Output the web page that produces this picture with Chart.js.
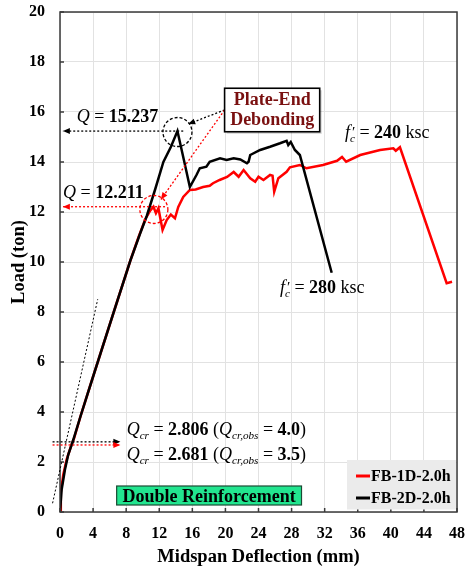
<!DOCTYPE html>
<html>
<head>
<meta charset="utf-8">
<script src="https://cdn.jsdelivr.net/npm/chart.js@4.4.1/dist/chart.umd.min.js"></script>
<style>
  html, body { margin: 0; padding: 0; background: #fff; }
</style>
</head>
<body>
<canvas id="loadChart" width="465" height="569"></canvas>
<script>
// Load-deflection curves for the two strengthened beams
const seriesLabels = ['FB-1D-2.0h', 'FB-2D-2.0h'];

const deflection1D = [0, 0.1, 0.4, 0.8, 1.3, 1.7, 2.5, 3.6, 5.0, 6.5,
  8.5, 9.5, 10.3, 10.9, 11.3, 11.6, 11.9, 12.1, 12.4, 12.9,
  13.4, 13.9, 14.3, 14.9, 15.7, 16.4, 17.3, 18.1, 18.5, 19.3,
  20.2, 21.0, 21.6, 22.2, 23.0, 23.6, 24.0, 24.6, 25.4, 25.7,
  25.9, 26.4, 27.4, 27.8, 29.0, 29.8, 31.8, 33.5, 34.1, 34.6,
  36.3, 38.7, 40.3, 40.6, 41.1, 46.75, 47.4];
const load1D = [0, 0.8, 1.5, 2.1, 2.6, 2.95, 3.85, 5.0, 6.45, 8.0,
  10.05, 11.0, 11.7, 12.05, 12.211, 11.95, 12.15, 11.8, 11.28, 11.68,
  11.9, 11.75, 12.2, 12.6, 12.88, 12.9, 13.0, 13.05, 13.15, 13.28,
  13.4, 13.6, 13.41, 13.68, 13.35, 13.21, 13.41, 13.28, 13.48, 13.45,
  12.81, 13.35, 13.61, 13.79, 13.88, 13.75, 13.88, 14.05, 14.2, 14.01,
  14.28, 14.48, 14.55, 14.45, 14.59, 9.15, 9.21];

const deflection2D = [0, 0.2, 0.6, 1.0, 1.6, 2.5, 3.6, 5.0, 6.5, 8.5,
  9.7, 10.5, 11.5, 12.5, 13.4, 14.2, 15.0, 15.7, 16.5, 16.9,
  17.7, 18.1, 19.35, 20.15, 21.0, 21.8, 22.6, 22.8, 23.0, 24.2,
  25.4, 26.6, 27.4, 27.6, 27.9, 28.4, 29.0, 32.85];
const load2D = [0, 0.9, 1.7, 2.3, 2.88, 3.85, 5.0, 6.45, 8.0, 10.05,
  11.15, 11.85, 12.9, 14.0, 14.6, 15.237, 14.05, 13.0, 13.48, 13.75,
  13.81, 14.01, 14.15, 14.08, 14.15, 14.1, 13.95, 14.01, 14.28, 14.48,
  14.61, 14.75, 14.85, 14.68, 14.8, 14.48, 14.28, 9.57];

// key loads marked on the chart
const debondLoads = [12.211, 15.237];   // 1D, 2D
const crackLoads = [2.681, 2.806];      // 1D, 2D
const crackObserved = ['3.5', '4.0'];

const seriesColors = ['#ff0000', '#000000'];
const serif = '"Liberation Serif", "Times New Roman", serif';

function toPoints(xs, ys) {
  return xs.map((x, i) => ({ x: x, y: ys[i] }));
}

function arrowLine(ctx, x1, y1, x2, y2, color, dash) {
  ctx.save();
  ctx.strokeStyle = color;
  ctx.fillStyle = color;
  ctx.lineWidth = 1.3;
  ctx.setLineDash(dash || [2, 2]);
  ctx.beginPath();
  ctx.moveTo(x1, y1);
  ctx.lineTo(x2, y2);
  ctx.stroke();
  ctx.setLineDash([]);
  const a = Math.atan2(y2 - y1, x2 - x1), L = 7, W = 3;
  ctx.beginPath();
  ctx.moveTo(x2, y2);
  ctx.lineTo(x2 - L * Math.cos(a) + W * Math.sin(a), y2 - L * Math.sin(a) - W * Math.cos(a));
  ctx.lineTo(x2 - L * Math.cos(a) - W * Math.sin(a), y2 - L * Math.sin(a) + W * Math.cos(a));
  ctx.closePath();
  ctx.fill();
  ctx.restore();
}

// text made of runs: i = italic, b = bold, sub/sup = small raised or lowered, hold = no advance
function drawRuns(ctx, x, y, runs, size, color) {
  let cx = x;
  ctx.fillStyle = color || '#000';
  ctx.textBaseline = 'alphabetic';
  ctx.textAlign = 'left';
  runs.forEach(r => {
    const s = r.sub ? size * 0.62 : (r.sup ? size * 0.85 : size);
    ctx.font = (r.i ? 'italic ' : '') + (r.b ? 'bold ' : '') + s + 'px ' + serif;
    const dy = r.sub ? size * 0.22 : (r.sup ? -size * 0.08 : 0);
    ctx.fillText(r.t, cx + (r.dx || 0), y + dy);
    if (!r.hold) cx += ctx.measureText(r.t).width + (r.dx || 0);
  });
}

const notes = {
  id: 'notes',
  afterDatasetsDraw(chart) {
    const ctx = chart.ctx;
    const xs = chart.scales.x, ys = chart.scales.y;
    const px = v => xs.getPixelForValue(v);
    const py = v => ys.getPixelForValue(v);
    const area = chart.chartArea;

    // frame and inward ticks
    ctx.save();
    ctx.strokeStyle = '#3a3a3a';
    ctx.lineWidth = 1.5;
    ctx.strokeRect(area.left, area.top, area.right - area.left, area.bottom - area.top);
    ctx.beginPath();
    xs.ticks.forEach(t => {
      ctx.moveTo(px(t.value), area.bottom);
      ctx.lineTo(px(t.value), area.bottom - 4);
    });
    ys.ticks.forEach(t => {
      ctx.moveTo(area.left, py(t.value));
      ctx.lineTo(area.left + 4, py(t.value));
    });
    ctx.stroke();
    ctx.restore();

    // initial stiffness tangent
    ctx.save();
    ctx.beginPath();
    ctx.rect(area.left - 10, area.top, area.right - area.left + 10, area.bottom - area.top);
    ctx.clip();
    ctx.strokeStyle = '#000';
    ctx.lineWidth = 1;
    ctx.setLineDash([2, 2]);
    ctx.beginPath();
    ctx.moveTo(px(-0.9), py(0.35));
    ctx.lineTo(px(4.56), py(8.51));
    ctx.stroke();
    ctx.restore();

    // cracking load arrows
    arrowLine(ctx, px(-0.9), py(crackLoads[1]), px(7.3), py(crackLoads[1]), seriesColors[1]);
    arrowLine(ctx, px(-0.9), py(crackLoads[0]), px(7.3), py(crackLoads[0]), seriesColors[0]);

    // debonding load arrows and circles
    arrowLine(ctx, px(14.9), py(debondLoads[1]), px(0.35), py(debondLoads[1]), seriesColors[1]);
    arrowLine(ctx, px(12.7), py(debondLoads[0]), px(0.35), py(debondLoads[0]), seriesColors[0]);

    ctx.save();
    ctx.lineWidth = 1.3;
    ctx.setLineDash([3, 2]);
    ctx.strokeStyle = seriesColors[1];
    ctx.beginPath();
    ctx.arc(px(14.2), py(15.2), 14.5, 0, Math.PI * 2);
    ctx.stroke();
    ctx.strokeStyle = seriesColors[0];
    ctx.beginPath();
    ctx.arc(px(11.35), py(12.1), 14, 0, Math.PI * 2);
    ctx.stroke();
    ctx.restore();

    // pointers from the debonding label
    arrowLine(ctx, px(19.9), py(16.08), px(15.5), py(15.52), seriesColors[1], [2, 2]);
    arrowLine(ctx, px(19.9), py(16.08), px(12.2), py(12.5), seriesColors[0], [2, 2]);

    // debonding label box
    ctx.save();
    const bx1 = px(19.9), by1 = py(16.95), bx2 = px(31.4), by2 = py(15.21);
    ctx.fillStyle = 'rgba(0,0,0,0.18)';
    ctx.fillRect(bx1 + 2, by1 + 2, bx2 - bx1, by2 - by1);
    ctx.fillStyle = '#fff';
    ctx.fillRect(bx1, by1, bx2 - bx1, by2 - by1);
    ctx.strokeStyle = '#000';
    ctx.lineWidth = 1.6;
    ctx.strokeRect(bx1, by1, bx2 - bx1, by2 - by1);
    ctx.fillStyle = '#7a1010';
    ctx.font = 'bold 18px ' + serif;
    ctx.textAlign = 'center';
    ctx.textBaseline = 'alphabetic';
    ctx.fillText('Plate-End', (bx1 + bx2) / 2, py(16.28));
    ctx.fillText('Debonding', (bx1 + bx2) / 2, py(15.48));
    ctx.restore();

    // load values
    drawRuns(ctx, px(2.02), py(15.61), [
      { t: 'Q', i: true }, { t: ' = ' }, { t: debondLoads[1].toFixed(3), b: true }
    ], 18);
    drawRuns(ctx, px(0.36), py(12.56), [
      { t: 'Q', i: true }, { t: ' = ' }, { t: debondLoads[0].toFixed(3), b: true }
    ], 18);
    [1, 0].forEach((k, row) => {
      drawRuns(ctx, px(8.06), py(row === 0 ? 3.08 : 2.08), [
        { t: 'Q', i: true }, { t: 'cr', i: true, sub: true }, { t: ' = ' },
        { t: crackLoads[k].toFixed(3), b: true }, { t: ' (' },
        { t: 'Q', i: true }, { t: 'cr,obs', i: true, sub: true }, { t: ' = ' },
        { t: crackObserved[k], b: true }, { t: ')' }
      ], 18);
    });

    // concrete strengths
    const fc = val => [
      { t: 'f', i: true }, { t: '′', sup: true, hold: true, dx: 2 }, { t: 'c', i: true, sub: true },
      { t: ' = ' }, { t: val, b: true }, { t: ' ksc' }
    ];
    drawRuns(ctx, px(34.46), py(14.95), fc('240'), 18);
    drawRuns(ctx, px(26.6), py(8.76), fc('280'), 18);

    // reinforcement tag
    ctx.save();
    const gx1 = px(6.85), gy1 = py(1.04), gx2 = px(29.2), gy2 = py(0.28);
    ctx.fillStyle = '#22e58f';
    ctx.fillRect(gx1, gy1, gx2 - gx1, gy2 - gy1);
    ctx.strokeStyle = '#1a4a33';
    ctx.lineWidth = 1.2;
    ctx.strokeRect(gx1, gy1, gx2 - gx1, gy2 - gy1);
    ctx.fillStyle = '#000';
    ctx.font = 'bold 18px ' + serif;
    ctx.textAlign = 'center';
    ctx.textBaseline = 'alphabetic';
    ctx.fillText('Double Reinforcement', (gx1 + gx2) / 2, py(0.41));
    ctx.restore();

    // legend
    ctx.save();
    ctx.fillStyle = '#ebebeb';
    ctx.fillRect(px(34.7), py(2.08), area.right - 1 - px(34.7), py(0.1) - py(2.08));
    chart.data.datasets.forEach((ds, i) => {
      const ly = 476 + i * 22;
      ctx.strokeStyle = ds.borderColor;
      ctx.lineWidth = 3;
      ctx.beginPath();
      ctx.moveTo(356, ly);
      ctx.lineTo(370, ly);
      ctx.stroke();
      ctx.fillStyle = '#000';
      ctx.font = 'bold 16px ' + serif;
      ctx.textAlign = 'left';
      ctx.textBaseline = 'middle';
      ctx.fillText(ds.label, 371, ly + 1);
    });
    ctx.restore();
  }
};

const tickFont = { family: serif, size: 16, weight: 'bold' };
const titleFont = { family: serif, size: 18.5, weight: 'bold' };

new Chart(document.getElementById('loadChart'), {
  type: 'line',
  data: {
    datasets: [
      {
        label: seriesLabels[0],
        data: toPoints(deflection1D, load1D),
        borderColor: seriesColors[0],
        borderWidth: 2.5,
        pointRadius: 0,
        order: 1
      },
      {
        label: seriesLabels[1],
        data: toPoints(deflection2D, load2D),
        borderColor: seriesColors[1],
        borderWidth: 2.5,
        pointRadius: 0,
        order: 0
      }
    ]
  },
  options: {
    responsive: false,
    animation: false,
    layout: { padding: { top: 12, right: 8, left: 0, bottom: 0 } },
    plugins: {
      legend: { display: false },
      tooltip: { enabled: false }
    },
    scales: {
      x: {
        type: 'linear',
        min: 0,
        max: 48,
        ticks: { stepSize: 4, padding: 12, color: '#000', font: tickFont },
        grid: { color: '#e2e2e2', drawTicks: false },
        border: { display: false },
        title: {
          display: true,
          text: 'Midspan Deflection (mm)',
          color: '#000',
          font: titleFont,
          padding: { top: 0, bottom: 1 }
        },
        afterFit: s => {
          s.height = 57;
          s.paddingLeft = 0;
          s.paddingRight = 0;
        }
      },
      y: {
        type: 'linear',
        min: 0,
        max: 20,
        ticks: { stepSize: 2, padding: 15, color: '#000', font: tickFont },
        grid: { color: '#e2e2e2', drawTicks: false },
        border: { display: false },
        title: {
          display: true,
          text: 'Load (ton)',
          color: '#000',
          font: titleFont,
          padding: { top: 8, bottom: 0 }
        },
        afterFit: s => {
          s.width = 60;
          s.paddingTop = 0;
          s.paddingBottom = 0;
        }
      }
    }
  },
  plugins: [notes]
});
</script>
</body>
</html>
